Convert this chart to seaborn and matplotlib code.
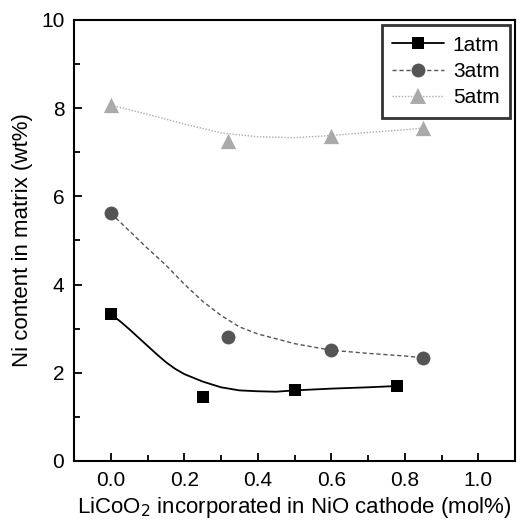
import numpy as np
import pandas as pd
import seaborn as sns
import matplotlib
matplotlib.use('Agg')
import matplotlib.pyplot as plt
from matplotlib.lines import Line2D
from matplotlib.ticker import MultipleLocator

# measured points (LiCoO2 mol%, Ni wt%)
x_1atm = [0.0, 0.25, 0.50, 0.78]
y_1atm = [3.33, 1.45, 1.61, 1.70]
x_3atm = [0.0, 0.32, 0.60, 0.85]
y_3atm = [5.62, 2.82, 2.51, 2.34]
x_5atm = [0.0, 0.32, 0.60, 0.85]
y_5atm = [8.07, 7.25, 7.37, 7.55]

# smooth guide curves
cx_1atm = [0.0, 0.025, 0.05, 0.075, 0.10, 0.125, 0.15, 0.175, 0.20, 0.25, 0.30, 0.35, 0.40, 0.45, 0.50, 0.60, 0.70, 0.78]
cy_1atm = [3.33, 3.17, 2.99, 2.80, 2.61, 2.42, 2.24, 2.09, 1.97, 1.80, 1.67, 1.60, 1.58, 1.57, 1.60, 1.64, 1.67, 1.70]
cx_3atm = [0.0, 0.05, 0.10, 0.15, 0.20, 0.25, 0.30, 0.35, 0.40, 0.45, 0.50, 0.60, 0.70, 0.80, 0.85]
cy_3atm = [5.62, 5.22, 4.82, 4.44, 4.01, 3.62, 3.30, 3.04, 2.88, 2.77, 2.66, 2.51, 2.44, 2.38, 2.34]
cx_5atm = [0.0, 0.10, 0.20, 0.30, 0.40, 0.50, 0.60, 0.70, 0.80, 0.85]
cy_5atm = [8.07, 7.86, 7.64, 7.44, 7.35, 7.33, 7.38, 7.45, 7.51, 7.55]

labels = ["1atm", "3atm", "5atm"]
colors = ["black", "#555555", "#aaaaaa"]
markers = ["s", "o", "^"]
msizes = [8, 10, 11]
styles = ["-", (0, (3, 2)), (0, (1, 1.2))]
widths = [1.3, 1.0, 1.0]

sns.set_style("white")
plt.rcParams['font.family'] = ['Liberation Sans', 'DejaVu Sans']
plt.rcParams['text.color'] = 'black'
plt.rcParams['axes.labelcolor'] = 'black'
plt.rcParams['xtick.color'] = 'black'
plt.rcParams['ytick.color'] = 'black'

fig = plt.figure(figsize=(5.25, 5.25), dpi=100)
ax = fig.add_axes([0.141, 0.122, 0.84, 0.84])

pts = [(x_1atm, y_1atm), (x_3atm, y_3atm), (x_5atm, y_5atm)]
curves = [(cx_1atm, cy_1atm), (cx_3atm, cy_3atm), (cx_5atm, cy_5atm)]

handles = []
for i in range(3):
    cdf = pd.DataFrame({"x": curves[i][0], "y": curves[i][1]})
    sns.lineplot(data=cdf, x="x", y="y", ax=ax, color=colors[i],
                 linestyle=styles[i], linewidth=widths[i], sort=True)
    pdf = pd.DataFrame({"x": pts[i][0], "y": pts[i][1]})
    sns.scatterplot(data=pdf, x="x", y="y", ax=ax, color=colors[i], marker=markers[i],
                    s=msizes[i] ** 2, edgecolor=colors[i], linewidth=0, zorder=5)
    handles.append(Line2D([], [], color=colors[i], linestyle=styles[i],
                          linewidth=widths[i], marker=markers[i],
                          markersize=msizes[i], markeredgewidth=0))

ax.set_xlim(-0.1, 1.1)
ax.set_ylim(0, 10)
ax.xaxis.set_major_locator(MultipleLocator(0.2))
ax.xaxis.set_minor_locator(MultipleLocator(0.1))
ax.yaxis.set_major_locator(MultipleLocator(2))
ax.yaxis.set_minor_locator(MultipleLocator(1))
ax.xaxis.set_major_formatter(matplotlib.ticker.FormatStrFormatter('%.1f'))
ax.tick_params(which='both', direction='in', bottom=True, left=True, top=False, right=False,
               labelsize=15, width=1.3, colors='black')
ax.tick_params(which='major', length=6, pad=7)
ax.tick_params(which='minor', length=4)
for sp in ax.spines.values():
    sp.set_linewidth(1.5)
    sp.set_color("black")

ax.set_xlabel("LiCoO$_2$ incorporated in NiO cathode (mol%)", fontsize=16, labelpad=4)
ax.set_ylabel("Ni content in matrix (wt%)", fontsize=16, labelpad=6)

leg = ax.legend(handles, labels, loc='upper right', bbox_to_anchor=(0.993, 0.993),
                fontsize=15, frameon=True, fancybox=False, handlelength=2.5,
                borderpad=0.5, labelspacing=0.35, handletextpad=0.4, borderaxespad=0.1)
leg.get_frame().set_edgecolor("black")
leg.get_frame().set_linewidth(2.0)

fig.savefig("out.png", dpi=100)
